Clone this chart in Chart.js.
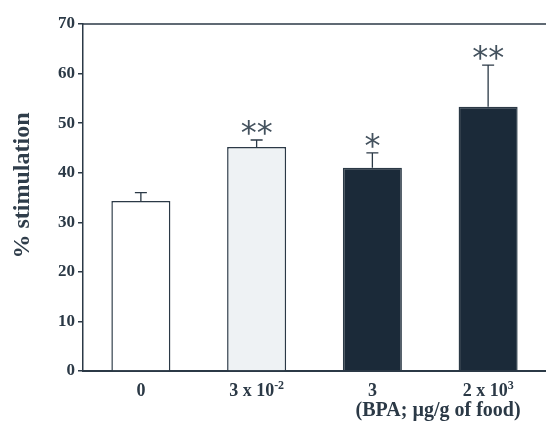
<!DOCTYPE html>
<html>
<head>
<meta charset="utf-8">
<script src="https://cdn.jsdelivr.net/npm/chart.js@4"></script>
<style>
  html, body { margin: 0; padding: 0; background: #ffffff; }
  #wrap { width: 546px; height: 425px; }
</style>
</head>
<body>
<div id="wrap"><canvas id="c" width="546" height="425"></canvas></div>
<script>
// ---- data ----
const categories = ['0', '3 x 10-2', '3', '2 x 103'];
const tickBase = ['0', '3 x 10', '3', '2 x 10'];
const tickExp = ['', '-2', '', '3'];
const values = [34.3, 45.2, 41.0, 53.3];
const errors = [1.7, 1.4, 3.0, 8.4];
const signif = ['', '**', '*', '**'];
const yTicks = [0, 10, 20, 30, 40, 50, 60, 70];
const xUnitLabel = '(BPA; \u00b5g/g of food)';
const yTitle = '% stimulation';

const INK = '#2b3946';
const fills = ['#ffffff', '#eef2f4', '#1b2a39', '#1b2a39'];
const SERIF = '"Liberation Serif", "DejaVu Serif", serif';

const overlay = {
  id: 'overlay',
  afterDatasetsDraw(chart) {
    const ctx = chart.ctx;
    const x = chart.scales.x, y = chart.scales.y;
    const area = chart.chartArea;
    ctx.save();
    // top frame line
    ctx.strokeStyle = INK;
    ctx.lineWidth = 1.5;
    ctx.beginPath();
    ctx.moveTo(area.left, y.getPixelForValue(70));
    ctx.lineTo(area.right, y.getPixelForValue(70));
    ctx.stroke();
    // error bars (upper only) and significance marks
    const meta = chart.getDatasetMeta(0);
    meta.data.forEach((bar, i) => {
      const cx = bar.x;
      const yTop = y.getPixelForValue(values[i]);
      const yErr = y.getPixelForValue(values[i] + errors[i]);
      ctx.strokeStyle = INK;
      ctx.lineWidth = 1.3;
      ctx.beginPath();
      ctx.moveTo(cx, yTop);
      ctx.lineTo(cx, yErr);
      ctx.moveTo(cx - 6, yErr);
      ctx.lineTo(cx + 6, yErr);
      ctx.stroke();
      if (signif[i]) {
        ctx.fillStyle = '#44525e';
        ctx.font = '32px "DejaVu Sans", sans-serif';
        ctx.textAlign = 'center';
        ctx.textBaseline = 'middle';
        ctx.fillText(signif[i], cx, yErr - 5);
      }
    });
    // x tick labels with superscripts
    ctx.fillStyle = INK;
    ctx.textBaseline = 'alphabetic';
    categories.forEach((c, i) => {
      const cx = x.getPixelForValue(i);
      const base = tickBase[i], ex = tickExp[i];
      ctx.font = 'bold 18px ' + SERIF;
      const wb = ctx.measureText(base).width;
      ctx.font = 'bold 12px ' + SERIF;
      const we = ex ? ctx.measureText(ex).width : 0;
      const start = cx - (wb + we) / 2;
      ctx.textAlign = 'left';
      ctx.font = 'bold 18px ' + SERIF;
      ctx.fillText(base, start, 396);
      if (ex) {
        ctx.font = 'bold 12px ' + SERIF;
        ctx.fillText(ex, start + wb, 389);
      }
    });
    ctx.font = 'bold 20px ' + SERIF;
    ctx.textAlign = 'center';
    ctx.fillText(xUnitLabel, x.getPixelForValue(3) - 50, 416);
    // y axis title
    ctx.save();
    ctx.translate(23, (area.top + area.bottom) / 2 - 12);
    ctx.rotate(-Math.PI / 2);
    ctx.fillStyle = '#2f3d4a';
    ctx.font = 'bold 24px ' + SERIF;
    ctx.textAlign = 'center';
    ctx.textBaseline = 'middle';
    ctx.fillText(yTitle, 0, 0);
    ctx.restore();
    ctx.restore();
  }
};

new Chart(document.getElementById('c'), {
  type: 'bar',
  data: {
    labels: categories,
    datasets: [{
      data: values,
      backgroundColor: fills,
      borderColor: INK,
      borderWidth: 1.5,
      borderSkipped: 'bottom',
      categoryPercentage: 1.0,
      barPercentage: 0.51
    }]
  },
  options: {
    responsive: false,
    animation: false,
    devicePixelRatio: 1,
    layout: { padding: { top: 24, right: 0, left: 0, bottom: 0 } },
    plugins: { legend: { display: false }, tooltip: { enabled: false } },
    scales: {
      x: {
        grid: { display: false, drawTicks: false },
        border: { display: true, color: INK, width: 2 },
        ticks: { display: false },
        afterFit(s) { s.height = 54; }
      },
      y: {
        min: 0, max: 70,
        afterBuildTicks(s) { s.ticks = yTicks.map(v => ({ value: v })); },
        grid: { display: true, drawOnChartArea: false, drawTicks: true, tickLength: 5, color: INK, lineWidth: 1.5 },
        border: { display: true, color: INK, width: 1.5 },
        ticks: {
          color: INK,
          padding: 3,
          font: { family: SERIF, size: 17, weight: 'bold' }
        },
        title: { display: false },
        afterFit(s) { s.width = 83; }
      }
    }
  },
  plugins: [overlay]
});
</script>
</body>
</html>
